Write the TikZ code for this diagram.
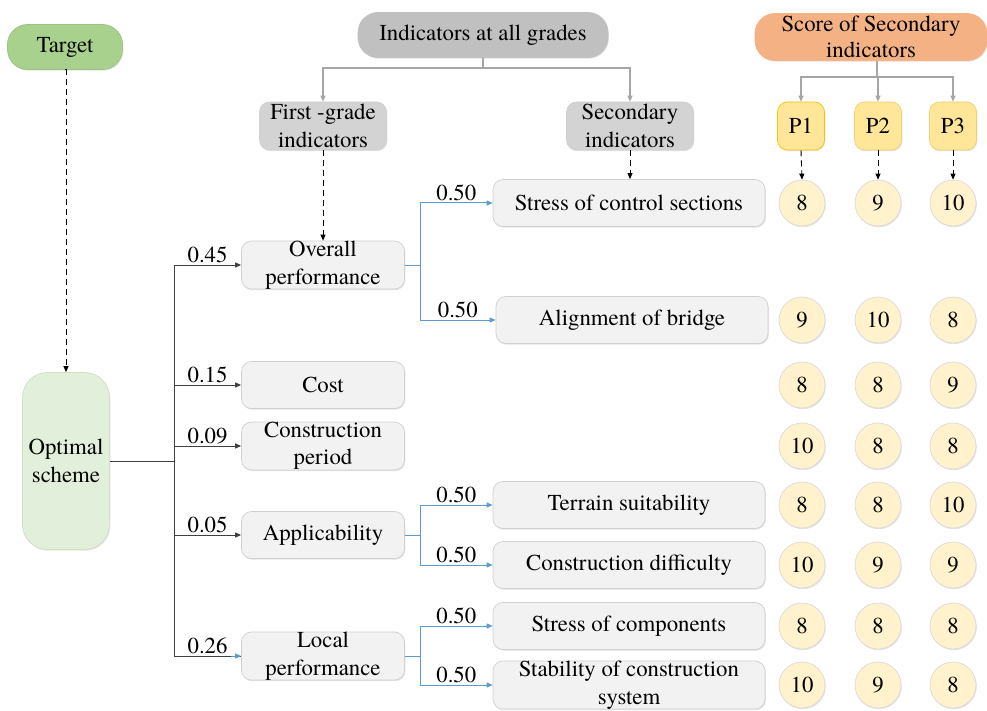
\documentclass[tikz,border=0pt]{standalone}
\usepackage{fontspec}
\setmainfont{texgyretermes-regular.otf}
\usetikzlibrary{arrows.meta,shadows}
\definecolor{tgreen}{HTML}{A9D18E}
\definecolor{tgreenb}{HTML}{9CC382}
\definecolor{lgreen}{HTML}{E2EFDA}
\definecolor{lgreenb}{HTML}{CFE0C3}
\definecolor{pillgray}{HTML}{C0C0C0}
\definecolor{boxgray}{HTML}{D3D3D3}
\definecolor{orangef}{HTML}{F4B183}
\definecolor{boxfill}{HTML}{F2F2F2}
\definecolor{boxline}{HTML}{D0D0D0}
\definecolor{pfill}{HTML}{FFE699}
\definecolor{pline}{HTML}{F0D070}
\definecolor{p1line}{HTML}{FFC000}
\definecolor{cfill}{HTML}{FFF2CC}
\definecolor{cline}{HTML}{DADADA}
\definecolor{dk}{HTML}{404040}
\definecolor{gl}{HTML}{A6A6A6}
\definecolor{bl}{HTML}{5B9BD5}
\begin{document}
\begin{tikzpicture}[x=1pt,y=-1pt,
  font=\fontsize{22.8}{27.5}\selectfont,
  base/.style={inner sep=0pt, align=center, line width=0.7pt,
    drop shadow={shadow xshift=0.8pt, shadow yshift=-1.2pt, fill=black!18, opacity=0.6}},
  pill/.style={base, rounded corners=20pt, minimum height=45pt},
  hbox/.style={base, draw=boxline, fill=boxgray, rounded corners=10pt, minimum width=127pt, minimum height=48pt},
  fbox/.style={base, draw=boxline, fill=boxfill, rounded corners=10pt, minimum width=163pt, minimum height=47pt},
  sbox/.style={base, draw=boxline, fill=boxfill, rounded corners=10pt, minimum width=272pt, minimum height=47pt},
  pbox/.style={base, draw=pline, fill=pfill, rounded corners=10pt, minimum width=47pt, minimum height=48pt},
  score/.style={base, circle, draw=cline, fill=cfill, minimum size=46pt},
  tip/.style={-{Triangle[length=6pt,width=5pt]}},
  dkline/.style={draw=dk, line width=1pt},
  dkarr/.style={dkline, tip},
  glarr/.style={draw=gl, line width=1.2pt, tip},
  blline/.style={draw=bl, line width=1pt},
  blarr/.style={blline, tip},
  dsh/.style={draw=black, line width=0.9pt, dash pattern=on 6pt off 4pt, tip},
  wlab/.style={midway, above, inner sep=1.5pt}
]
\useasboundingbox (0,0) rectangle (987,711);

% top headers
\node[pill, draw=tgreenb, fill=tgreen, minimum width=115pt] (target) at (65,47) {Target};
\node[pill, draw=pillgray, fill=pillgray, minimum width=250pt] (all) at (483,35) {Indicators at all grades};
\node[pill, draw=orangef, fill=orangef, minimum width=232pt, minimum height=47pt] (score) at (871,37) {Score of Secondary\\[-1pt]indicators};

\node[hbox] (first) at (323,126) {First -grade\\indicators};
\node[hbox] (sec) at (630,126) {Secondary\\indicators};

\node[pbox, draw=p1line] (p1) at (801,126) {P1};
\node[pbox] (p2) at (878,126) {P2};
\node[pbox] (p3) at (953,126) {P3};

% left
\node[base, draw=lgreenb, fill=lgreen, rounded corners=25pt, minimum width=87pt, minimum height=177pt] (opt) at (66,461) {Optimal\\scheme};

% first grade
\node[fbox] (ov) at (323,265) {Overall\\performance};
\node[fbox] (cost) at (323,385) {Cost};
\node[fbox] (per) at (323,446) {Construction\\period};
\node[fbox] (app) at (323,535) {Applicability};
\node[fbox] (loc) at (323,656) {Local\\performance};

% secondary
\node[sbox] (s1) at (629,203) {Stress of control sections};
\node[sbox] (s2) at (632,320) {Alignment of bridge};
\node[sbox] (s3) at (629,505) {Terrain suitability};
\node[sbox] (s4) at (629,565) {Construction difficulty};
\node[sbox] (s5) at (629,626) {Stress of components};
\node[sbox] (s6) at (629,685) {Stability of construction\\system};

% scores
\node[score] (a1) at (802,203) {8};  \node[score] (b1) at (878,203) {9};  \node[score] (c1) at (953,203) {10};
\node[score] (a2) at (802,320) {9};  \node[score] (b2) at (878,320) {10}; \node[score] (c2) at (953,320) {8};
\node[score] (a3) at (802,385) {8};  \node[score] (b3) at (878,385) {8};  \node[score] (c3) at (953,385) {9};
\node[score] (a4) at (802,446) {10}; \node[score] (b4) at (878,446) {8};  \node[score] (c4) at (953,446) {8};
\node[score] (a5) at (802,505) {8};  \node[score] (b5) at (878,505) {8};  \node[score] (c5) at (953,505) {10};
\node[score] (a6) at (802,565) {10}; \node[score] (b6) at (878,565) {9};  \node[score] (c6) at (953,565) {9};
\node[score] (a7) at (802,626) {8};  \node[score] (b7) at (878,626) {8};  \node[score] (c7) at (953,626) {8};
\node[score] (a8) at (802,685) {10}; \node[score] (b8) at (878,685) {9};  \node[score] (c8) at (953,685) {8};

% gray header connectors
\coordinate (allj) at (483,68);
\draw[draw=gl, line width=1.2pt] (all.south) -- (allj);
\draw[glarr] (allj) -| (first.north);
\draw[glarr] (allj) -| (sec.north);
\coordinate (scj) at (877,77);
\draw[draw=gl, line width=1.2pt] (score.south -| scj) -- (scj);
\draw[glarr] (scj) -| (p1.north);
\draw[glarr] (scj) -| (p2.north);
\draw[glarr] (scj) -| (p3.north);

% dashed
\draw[dsh] (target.south) -- (opt.north |- target.south) -- (opt.north);
\draw[dsh] (first.south) -- (ov.north);
\draw[dsh] (sec.south) -- (sec.south |- s1.north);
\draw[dsh] (p1.south) -- (a1.north);
\draw[dsh] (p2.south) -- (b1.north);
\draw[dsh] (p3.south) -- (c1.north);

% trunk
\coordinate (tr) at (174,461);
\draw[dkline] (opt.east |- tr) -- (tr);
\draw[dkline] (tr |- ov.west) -- (tr |- loc.west);
\draw[dkarr] (tr |- ov.west) -- (ov.west) node[wlab]{0.45};
\draw[dkarr] (tr |- cost.west) -- (cost.west) node[wlab]{0.15};
\draw[dkarr] (tr |- per.west) -- (per.west) node[wlab]{0.09};
\draw[dkarr] (tr |- app.west) -- (app.west) node[wlab]{0.05};
\draw[dkline] (tr |- loc.west) -- (loc.west) node[wlab]{0.26};
\draw[blarr] ([xshift=-10pt]loc.west) -- (loc.west);

% blue branches
\coordinate (bj1) at (420,265);
\draw[blline] (ov.east) -- (bj1);
\draw[blline] (bj1 |- s1.west) -- (bj1 |- s2.west);
\draw[blarr] (bj1 |- s1.west) -- (s1.west) node[wlab]{0.50};
\draw[blarr] (bj1 |- s2.west) -- (s2.west) node[wlab]{0.50};

\coordinate (bj2) at (420,535);
\draw[blline] (app.east) -- (bj2);
\draw[blline] (bj2 |- s3.west) -- (bj2 |- s4.west);
\draw[blarr] (bj2 |- s3.west) -- (s3.west) node[wlab]{0.50};
\draw[blarr] (bj2 |- s4.west) -- (s4.west) node[wlab]{0.50};

\coordinate (bj3) at (420,656);
\draw[blline] (loc.east) -- (bj3);
\draw[blline] (bj3 |- s5.west) -- (bj3 |- s6.west);
\draw[blarr] (bj3 |- s5.west) -- (s5.west) node[wlab]{0.50};
\draw[blarr] (bj3 |- s6.west) -- (s6.west) node[wlab]{0.50};
\end{tikzpicture}
\end{document}
